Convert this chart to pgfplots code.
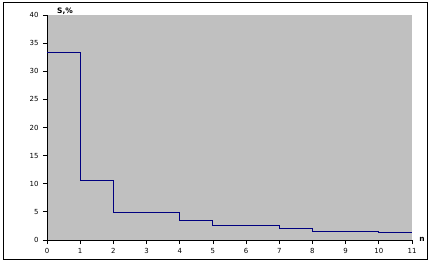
\documentclass[border=0pt]{standalone}
\usepackage{pgfplots}
\pgfplotsset{compat=1.18}
\usepackage{fontspec}
\setmainfont{DejaVu Sans}
\definecolor{bggray}{RGB}{192,192,192}
\definecolor{stepnavy}{RGB}{0,0,128}
\begin{document}
\begin{tikzpicture}[x=1bp,y=1bp]
\useasboundingbox (0,0) rectangle (430,262);
\draw[line width=1bp] (3,3) rectangle (427,259);
\begin{axis}[
  at={(47bp,22bp)}, anchor=south west,
  scale only axis, width=365bp, height=225bp,
  xmin=0, xmax=11, ymin=0, ymax=40,
  xtick={0,1,...,11}, ytick={0,5,...,40},
  axis x line*=bottom, axis y line*=left,
  axis line style={-, black, line width=0.8bp},
  tick align=outside, major tick length=4bp,
  tick style={black, line width=0.8bp},
  axis background/.style={fill=bggray},
  /pgf/number format/assume math mode=true,
  ticklabel style={font=\fontsize{7}{8}\selectfont},
  xticklabel style={yshift=-1bp},
  yticklabel style={xshift=-1bp},
  clip=false,
]
\addplot[const plot, color=stepnavy, line width=0.9bp] coordinates {
  (0,33.3) (1,10.5) (2,4.9) (4,3.4) (5,2.5) (7,2.0) (8,1.6) (10,1.4) (11,1.4)
};
\end{axis}
\node[font=\fontsize{7.5}{8}\selectfont\bfseries] at (65,251) {S,\%};
\node[font=\fontsize{7.5}{8}\selectfont\bfseries] at (422,23) {n};
\end{tikzpicture}
\end{document}
